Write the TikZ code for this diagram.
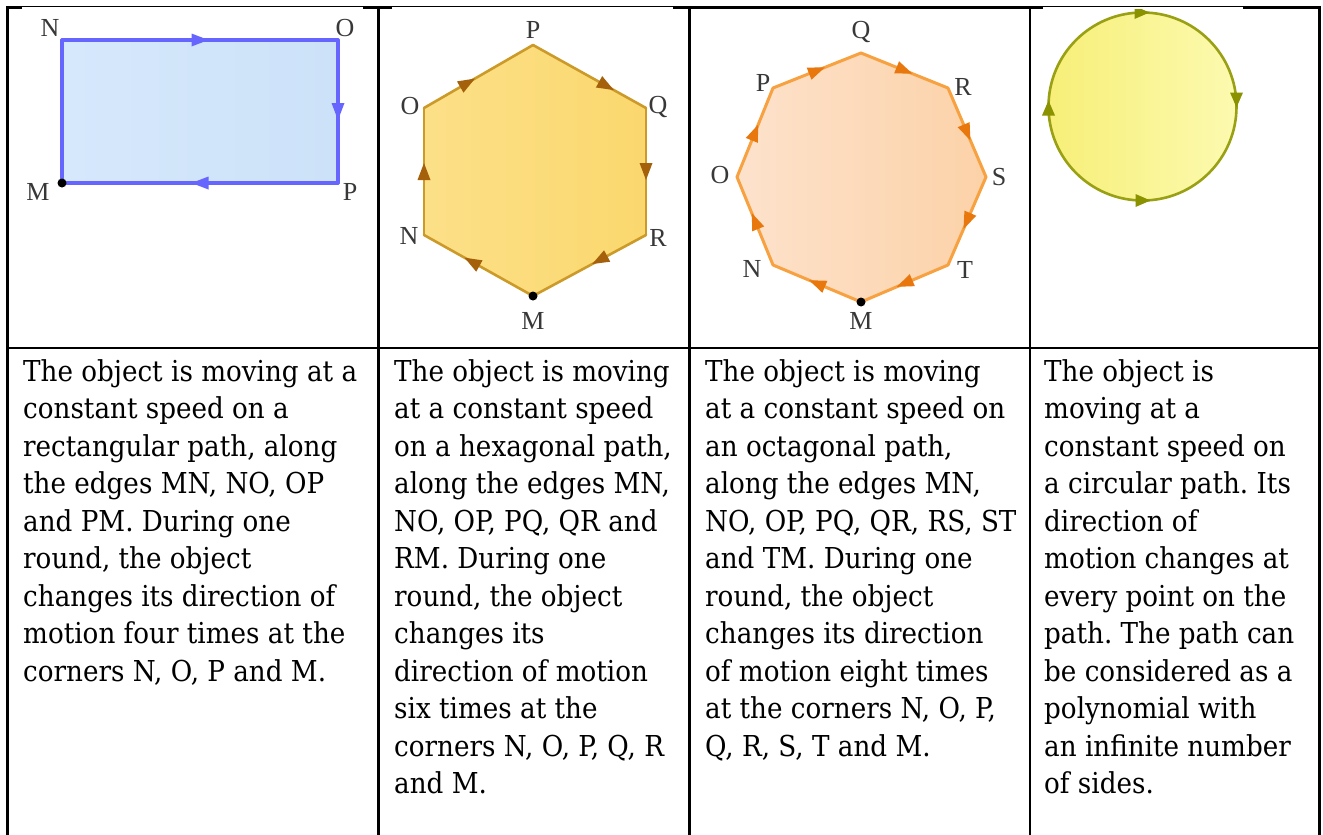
\documentclass[tikz,border=0pt]{standalone}
\usepackage{fontspec}
\setmainfont{Liberation Serif}
\newfontfamily\bodyfont{DejaVu Serif}[FakeStretch=0.91]
\usetikzlibrary{decorations.markings}
\frenchspacing
\definecolor{rectline}{HTML}{6666FF}
\definecolor{rectfillL}{HTML}{D6E8FC}
\definecolor{rectfillR}{HTML}{CCE2F8}
\definecolor{hexline}{HTML}{CC9A28}
\definecolor{hexarrow}{HTML}{A5600C}
\definecolor{hexfillL}{HTML}{FCE088}
\definecolor{hexfillR}{HTML}{FBD86E}
\definecolor{octline}{HTML}{F7A140}
\definecolor{octarrow}{HTML}{E8780E}
\definecolor{octfillL}{HTML}{FDE2CC}
\definecolor{octfillR}{HTML}{FCD2A8}
\definecolor{cirline}{HTML}{9AA014}
\definecolor{cirarrow}{HTML}{8A9200}
\definecolor{cirfillL}{HTML}{F7EF78}
\definecolor{cirfillR}{HTML}{FCFAB0}
\definecolor{labelgray}{HTML}{383838}
\tikzset{
  grid/.style={line width=2.7pt, black},
  bodytext/.style={anchor=north west, inner sep=0pt, align=left,
    font=\bodyfont\frenchspacing\fontsize{28.8}{37.5}\selectfont},
  vlabel/.style={inner sep=0pt, text=labelgray, font=\fontsize{26}{26}\selectfont},
  arr/.style 2 args={postaction={decorate, decoration={markings,
     mark=at position #1 with {\fill[#2] (8.5pt,0pt) -- (-8.5pt,6.5pt) -- (-8.5pt,-6.5pt) -- cycle;}}}},
  dot/.style={circle, fill=black, inner sep=0pt, minimum size=9pt}
}
\begin{document}
\begin{tikzpicture}[x=1pt,y=-1pt]
\useasboundingbox (0,0) rectangle (1323,835);
\fill[white] (0,0) rectangle (1323,835);

% ---------- rectangle panel ----------
\coordinate (rN) at (62,40);
\coordinate (rO) at (338,40);
\coordinate (rP) at (338,183);
\coordinate (rM) at (62,183);
\shade[left color=rectfillL, right color=rectfillR] (rN) rectangle (rP);
\begin{scope}[line width=3.2pt, rectline, line cap=round, line join=round]
\draw (rM) -- (rN);
\draw[arr={0.5}{rectline}] (rN) -- (rO);
\draw[arr={0.5}{rectline}] (rO) -- (rP);
\draw[arr={0.5}{rectline}] (rP) -- (rM);
\end{scope}
\node[dot] (rMd) at (rM) {};
\node[vlabel] (lrN) at (50,28) {N};
\node[vlabel] (lrO) at (345,28) {O};
\node[vlabel] (lrM) at (38,192) {M};
\node[vlabel] (lrP) at (350,192) {P};

% ---------- hexagon panel ----------
\coordinate (hM) at (533,296);
\coordinate (hN) at (424,235);
\coordinate (hO) at (424,108);
\coordinate (hP) at (533,45);
\coordinate (hQ) at (646,108);
\coordinate (hR) at (646,235);
\shade[left color=hexfillL, right color=hexfillR] (hM) -- (hN) -- (hO) -- (hP) -- (hQ) -- (hR) -- cycle;
\begin{scope}[line width=2.6pt, hexline, line cap=round, line join=round]
\draw[arr={0.56}{hexarrow}] (hM) -- (hN);
\draw[arr={0.5}{hexarrow}] (hN) -- (hO);
\draw[arr={0.40}{hexarrow}] (hO) -- (hP);
\draw[arr={0.65}{hexarrow}] (hP) -- (hQ);
\draw[arr={0.5}{hexarrow}] (hQ) -- (hR);
\draw[arr={0.41}{hexarrow}] (hR) -- (hM);
\end{scope}
\node[dot] (hMd) at (hM) {};
\node[vlabel] (lhP) at (533,30) {P};
\node[vlabel] (lhO) at (410,106) {O};
\node[vlabel] (lhQ) at (658,107) {Q};
\node[vlabel] (lhN) at (409,236) {N};
\node[vlabel] (lhR) at (658,238) {R};
\node[vlabel] (lhM) at (533,321) {M};

% ---------- octagon panel ----------
\coordinate (oM) at (861,302);
\coordinate (oN) at (773,265);
\coordinate (oO) at (737,177);
\coordinate (oP) at (773,88);
\coordinate (oQ) at (861,53);
\coordinate (oR) at (948,88);
\coordinate (oS) at (986,177);
\coordinate (oT) at (948,265);
\shade[left color=octfillL, right color=octfillR] (oM) -- (oN) -- (oO) -- (oP) -- (oQ) -- (oR) -- (oS) -- (oT) -- cycle;
\begin{scope}[line width=3pt, octline, line cap=round, line join=round]
\draw[arr={0.5}{octarrow}] (oM) -- (oN);
\draw[arr={0.5}{octarrow}] (oN) -- (oO);
\draw[arr={0.5}{octarrow}] (oO) -- (oP);
\draw[arr={0.5}{octarrow}] (oP) -- (oQ);
\draw[arr={0.5}{octarrow}] (oQ) -- (oR);
\draw[arr={0.5}{octarrow}] (oR) -- (oS);
\draw[arr={0.5}{octarrow}] (oS) -- (oT);
\draw[arr={0.5}{octarrow}] (oT) -- (oM);
\end{scope}
\node[dot] (oMd) at (oM) {};
\node[vlabel] (loQ) at (861,32) {Q};
\node[vlabel] (loP) at (763,83) {P};
\node[vlabel] (loR) at (963,87) {R};
\node[vlabel] (loO) at (720,175) {O};
\node[vlabel] (loS) at (999,177) {S};
\node[vlabel] (loN) at (752,269) {N};
\node[vlabel] (loT) at (965,270) {T};
\node[vlabel] (loM) at (861,321) {M};

% ---------- circle panel ----------
\coordinate (cC) at (1142.5,106.5);
\shade[left color=cirfillL, right color=cirfillR] (cC) circle[radius=94];
\draw[line width=2.6pt, cirline] (cC) circle[radius=94];
\fill[cirarrow, shift={(1142,12.5)}] (7.5pt,0pt) -- (-7.5pt,6.5pt) -- (-7.5pt,-6.5pt) -- cycle;
\fill[cirarrow, shift={(1236.5,100)}, rotate=-90] (7.5pt,0pt) -- (-7.5pt,6.5pt) -- (-7.5pt,-6.5pt) -- cycle;
\fill[cirarrow, shift={(1143,200.5)}] (7.5pt,0pt) -- (-7.5pt,6.5pt) -- (-7.5pt,-6.5pt) -- cycle;
\fill[cirarrow, shift={(1048.5,108)}, rotate=90] (7.5pt,0pt) -- (-7.5pt,6.5pt) -- (-7.5pt,-6.5pt) -- cycle;

% ---------- table grid ----------
\draw[grid] (6,7.2) -- (1321,7.2);
\draw[grid] (6,348) -- (1321,348);
\draw[grid] (7.5,5.8) -- (7.5,835);
\draw[grid] (378.5,5.8) -- (378.5,835);
\draw[grid] (689.5,5.8) -- (689.5,835);
\draw[grid] (1030,5.8) -- (1030,835);
\draw[grid] (1319.5,5.8) -- (1319.5,835);
\fill[white] (22,7.4) rectangle (363,9);
\fill[white] (392,7.4) rectangle (673,9);
\fill[white] (1043,7.4) rectangle (1243,9);

% ---------- text ----------
\node[bodytext] (t1) at (23,359.1) {The object is moving at a\\constant speed on a\\rectangular path, along\\the edges MN, NO, OP\\and PM. During one\\round, the object\\changes its direction of\\motion four times at the\\corners N, O, P and M.};
\node[bodytext] (t2) at (394,359.1) {The object is moving\\at a constant speed\\on a hexagonal path,\\along the edges MN,\\NO, OP, PQ, QR and\\RM. During one\\round, the object\\changes its\\direction of motion\\six times at the\\corners N, O, P, Q, R\\and M.};
\node[bodytext] (t3) at (705,359.1) {The object is moving\\at a constant speed on\\an octagonal path,\\along the edges MN,\\NO, OP, PQ, QR, RS, ST\\and TM. During one\\round, the object\\changes its direction\\of motion eight times\\at the corners N, O, P,\\Q, R, S, T and M.};
\node[bodytext] (t4) at (1044,359.1) {The object is\\moving at a\\constant speed on\\a circular path. Its\\direction of\\motion changes at\\every point on the\\path. The path can\\be considered as a\\polynomial with\\an infinite number\\of sides.};
\end{tikzpicture}
\end{document}
